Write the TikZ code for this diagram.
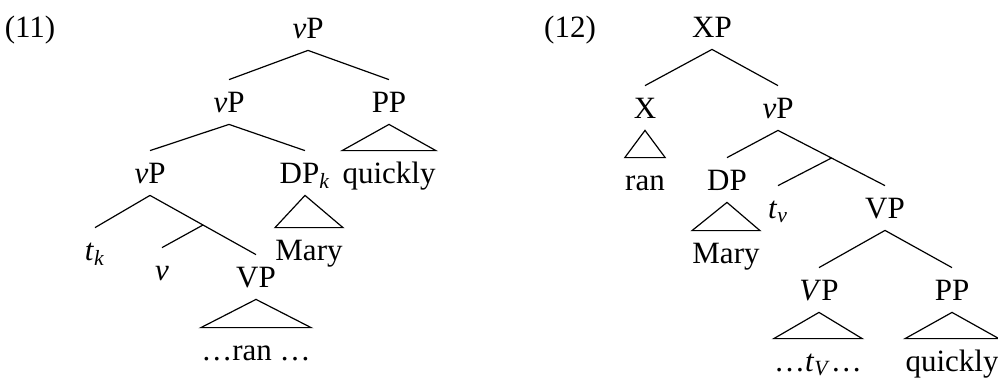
\documentclass[tikz,border=0pt]{standalone}
\usepackage{fontspec}
\setmainfont{Liberation Serif}
\usepackage{tikz}
\usetikzlibrary{calc}
\tikzset{
    tree-node/.style = {anchor=base, inner xsep=0pt, inner ysep=6pt, text height=10pt, text depth=0pt, font=\fontsize{15.5}{18}\selectfont},
    tree-edge/.style = {draw=black, line width=0.6pt, line join=miter},
}

\begin{document}
\begin{tikzpicture}[x=0.5pt, y=-0.5pt]
\useasboundingbox (0,0) rectangle (998,377);

% (11)
\node[tree-node] (ex-a) at (30,37) {(11)};
\node[tree-node] (a-vp) at (308,38) {\textit{v}P};
\node[tree-node] (a-vp2) at (229,112) {\textit{v}P};
\node[tree-node] (a-pp) at (389,112) {PP};
\node[tree-node] (a-vp3) at (150,183) {\textit{v}P};
\node[tree-node] (a-dp) at (305,183) {DP\textsubscript{\textit{k}}};
\node[tree-node] (a-quickly) at (389,183) {quickly};
\node[tree-node] (a-tk) at (95,260) {\textit{t}\textsubscript{\textit{k}}};
\node[tree-node] (a-v) at (162,280) {\textit{v}};
\node[tree-node] (a-vbar) at (256,287) {VP};
\node[tree-node] (a-mary) at (309,260) {Mary};
\node[tree-node] (a-ran) at (256,360) {\dots ran \dots};
\coordinate (a-mid) at ($(a-vp3.south)!0.5!(a-vbar.north)$);

\draw[tree-edge] (a-vp.south) -- (a-vp2.north);
\draw[tree-edge] (a-vp.south) -- (a-pp.north);
\draw[tree-edge] (a-vp2.south) -- (a-vp3.north);
\draw[tree-edge] (a-vp2.south) -- (a-dp.north);
\draw[tree-edge] (a-vp3.south) -- (a-tk.north);
\draw[tree-edge] (a-vp3.south) -- (a-vbar.north);
\draw[tree-edge] (a-mid) -- (a-v.north);
\draw[tree-edge] (a-pp.south) -- (a-quickly.north west) -- (a-quickly.north east) -- cycle;
\draw[tree-edge] (a-dp.south) -- (a-mary.north west) -- (a-mary.north east) -- cycle;
\draw[tree-edge] (a-vbar.south) -- (a-ran.north west) -- (a-ran.north east) -- cycle;

% (12)
\node[tree-node] (ex-b) at (570,37) {(12)};
\node[tree-node] (b-xp) at (712,37) {XP};
\node[tree-node] (b-x) at (645,118) {X};
\node[tree-node] (b-vp) at (778,118) {\textit{v}P};
\node[tree-node] (b-ran) at (645,190) {ran};
\node[tree-node] (b-dp) at (727,190) {DP};
\node[tree-node] (b-tv) at (778,218) {\textit{t}\textsubscript{\textit{v}}};
\node[tree-node] (b-vbar) at (885,218) {VP};
\node[tree-node] (b-mary) at (726,263) {Mary};
\node[tree-node] (b-vp2) at (819,300) {\textit{V}P};
\node[tree-node] (b-pp) at (952,300) {PP};
\node[tree-node] (b-tvv) at (818,371) {\dots\textit{t}\textsubscript{\textit{V}}\dots};
\node[tree-node] (b-quickly) at (952,371) {quickly};
\coordinate (b-mid) at ($(b-vp.south)!0.5!(b-vbar.north)$);

\draw[tree-edge] (b-xp.south) -- (b-x.north);
\draw[tree-edge] (b-xp.south) -- (b-vp.north);
\draw[tree-edge] (b-vp.south) -- (b-dp.north);
\draw[tree-edge] (b-vp.south) -- (b-vbar.north);
\draw[tree-edge] (b-mid) -- (b-tv.north);
\draw[tree-edge] (b-vbar.south) -- (b-vp2.north);
\draw[tree-edge] (b-vbar.south) -- (b-pp.north);
\draw[tree-edge] (b-x.south) -- (b-ran.north west) -- (b-ran.north east) -- cycle;
\draw[tree-edge] (b-dp.south) -- (b-mary.north west) -- (b-mary.north east) -- cycle;
\draw[tree-edge] (b-vp2.south) -- (b-tvv.north west) -- (b-tvv.north east) -- cycle;
\draw[tree-edge] (b-pp.south) -- (b-quickly.north west) -- (b-quickly.north east) -- cycle;
\end{tikzpicture}
\end{document}
